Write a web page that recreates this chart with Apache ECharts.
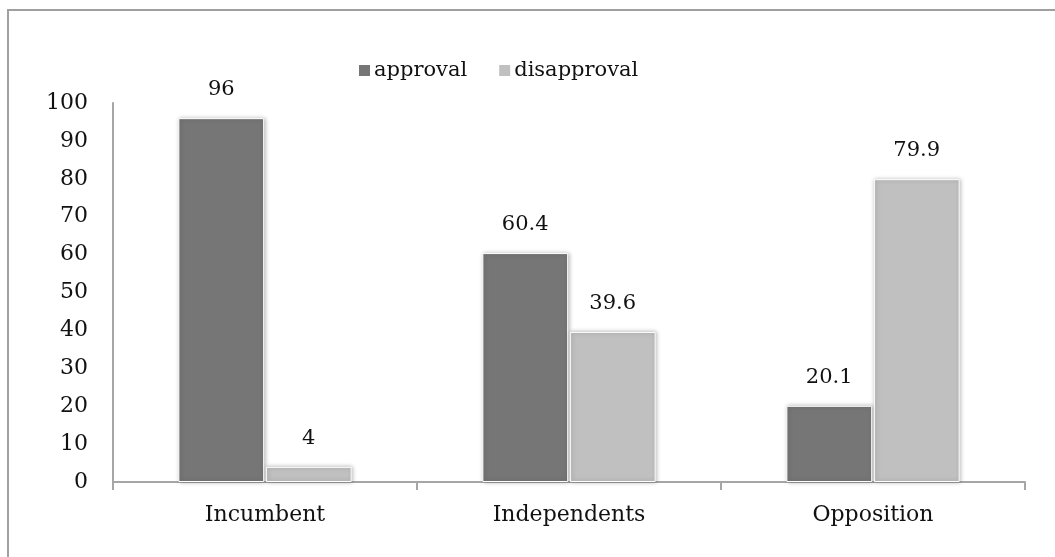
<!DOCTYPE html>
<html>
<head>
<meta charset="utf-8">
<script src="https://cdn.jsdelivr.net/npm/echarts@6/dist/echarts.min.js"></script>
<style>
  html, body { margin: 0; padding: 0; background: #fff; }
  #chart { width: 1055px; height: 557px; }
</style>
</head>
<body>
<div id="chart"></div>
<script>
// Approval ratings by group
const categories = ['Incumbent', 'Independents', 'Opposition'];
const approval = [96, 60.4, 20.1];
const disapproval = [4, 39.6, 79.9];
const yTicks = { min: 0, max: 100, interval: 10 };

const FONT = 'DejaVu Serif';
const AXIS_GRAY = '#a6a6a6';

const chart = echarts.init(document.getElementById('chart'), null, { renderer: 'canvas' });

const barStyle = (color) => ({
  color: color,
  borderColor: '#ffffff',
  borderWidth: 1,
  shadowBlur: 4,
  shadowColor: 'rgba(0,0,0,0.28)',
  shadowOffsetX: 1,
  shadowOffsetY: 0
});

const valueLabel = {
  show: true,
  position: 'top',
  distance: 18,
  fontFamily: FONT,
  fontSize: 21,
  color: '#111'
};

chart.setOption({
  animation: false,
  backgroundColor: '#ffffff',
  graphic: [{
    type: 'rect',
    shape: { x: 8, y: 10, width: 1200, height: 700 },
    style: { fill: 'none', stroke: '#a0a0a0', lineWidth: 2 },
    silent: true,
    z: -1
  }],
  legend: {
    left: 352,
    top: 55,
    itemWidth: 13,
    itemHeight: 13,
    itemGap: 30,
    icon: 'rect',
    textStyle: { fontFamily: FONT, fontSize: 21, color: '#111', padding: [0, 0, 0, -2] },
    data: ['approval', 'disapproval']
  },
  grid: { left: 113, right: 30, top: 103, bottom: 75, containLabel: false },
  xAxis: {
    type: 'category',
    data: categories,
    axisLine: { lineStyle: { color: AXIS_GRAY, width: 2 } },
    axisTick: { show: true, length: 8, lineStyle: { color: AXIS_GRAY, width: 2 } },
    axisLabel: { fontFamily: FONT, fontSize: 22, color: '#111', margin: 22 }
  },
  yAxis: {
    type: 'value',
    min: yTicks.min,
    max: yTicks.max,
    interval: yTicks.interval,
    splitLine: { show: false },
    axisLine: { show: true, lineStyle: { color: AXIS_GRAY, width: 2 } },
    axisTick: { show: false },
    axisLabel: { fontFamily: FONT, fontSize: 22, color: '#111', margin: 25 }
  },
  series: [
    {
      name: 'approval',
      type: 'bar',
      data: approval,
      barGap: '2%',
      barCategoryGap: '43%',
      itemStyle: barStyle('#767676'),
      label: valueLabel
    },
    {
      name: 'disapproval',
      type: 'bar',
      data: disapproval,
      itemStyle: barStyle('#c0c0c0'),
      label: valueLabel
    }
  ]
});
</script>
</body>
</html>
